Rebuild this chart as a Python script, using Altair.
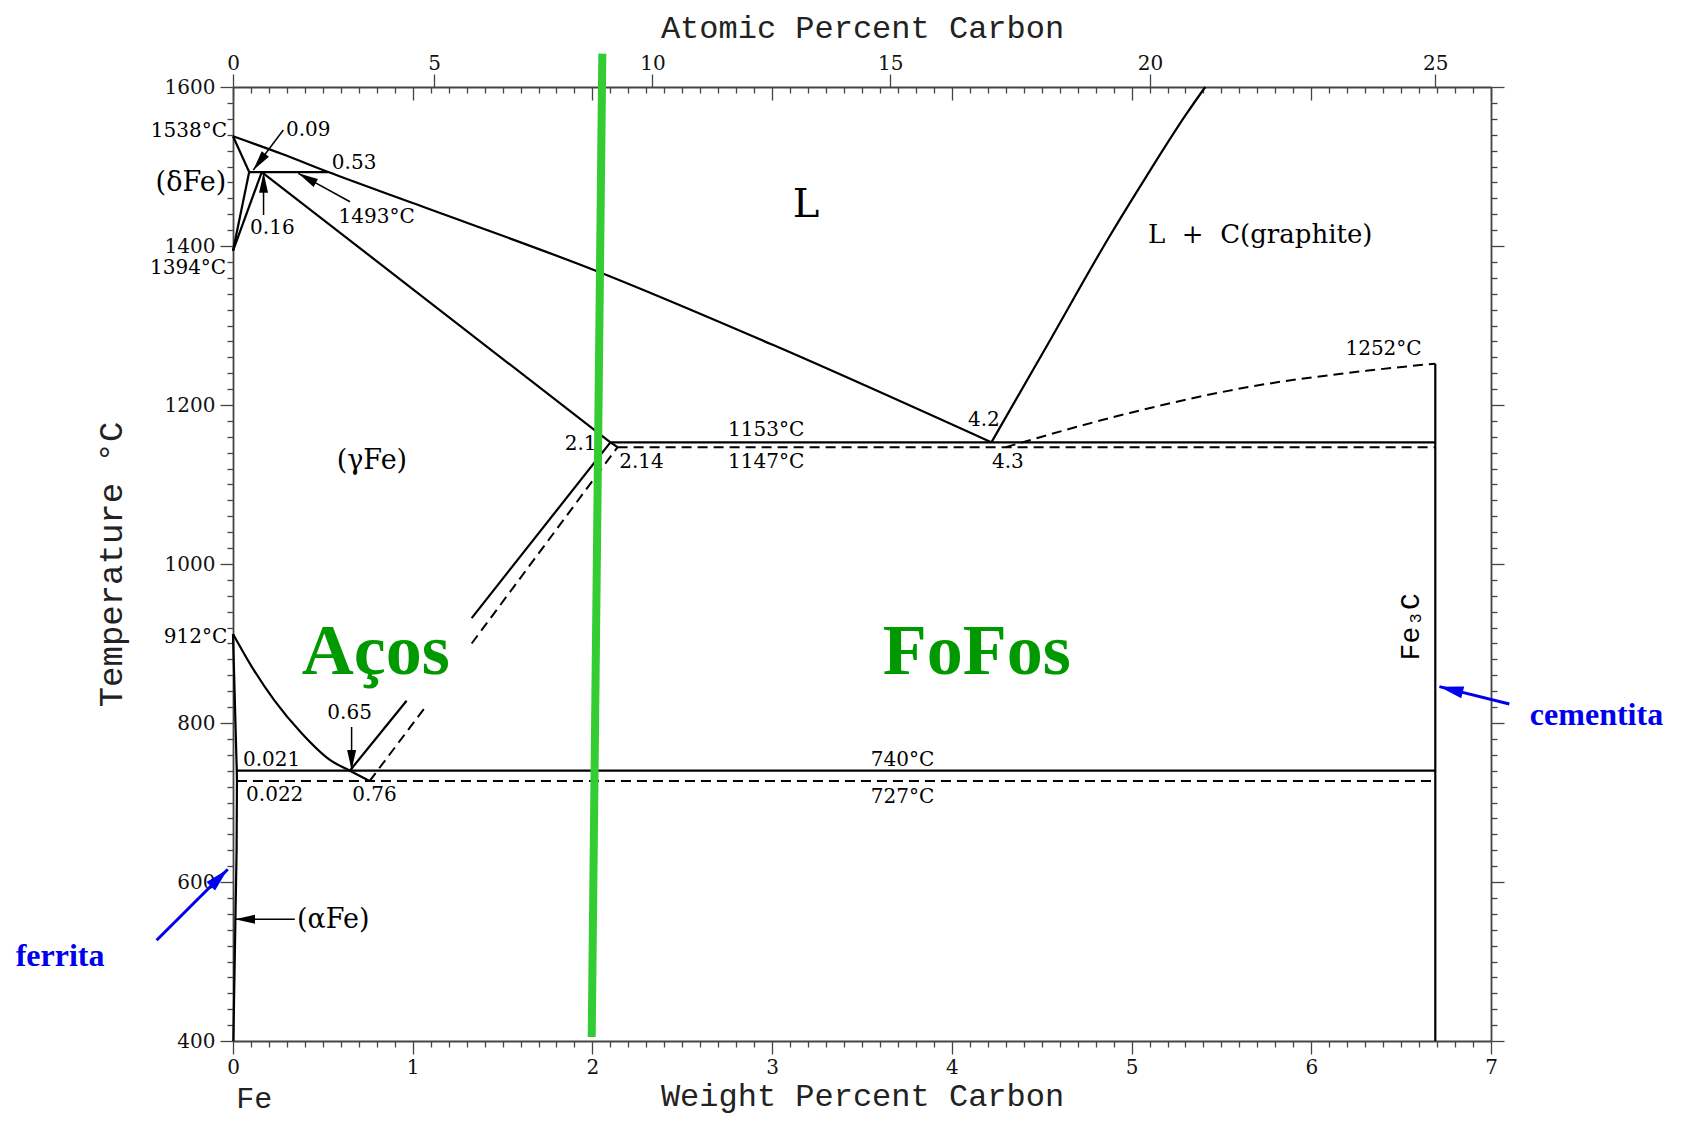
import math
import altair as alt
import pandas as pd

# ---------------- plot geometry ----------------
W, H = 1258, 954
WT_MIN, WT_MAX = 0, 7
T_MIN, T_MAX = 400, 1600

# ---------------- phase boundaries (wt% C, degC) ----------------
# solid lines (stable Fe-C / shared)
liquidus_wt = [0, 0.27, 0.53, 1.0, 2.04, 3.0, 4.22]
liquidus_T = [1538, 1516, 1493, 1454, 1367, 1276, 1153]
delta_solidus_wt = [0, 0.09]
delta_solidus_T = [1538, 1493]
peritectic_wt = [0.09, 0.53]
peritectic_T = [1493, 1493]
delta_gamma_wt = [0.09, 0]
delta_gamma_T = [1493, 1394]
gamma_delta_wt = [0.16, 0]
gamma_delta_T = [1493, 1394]
gamma_solidus_wt = [0.16, 2.1, 2.14]
gamma_solidus_T = [1493, 1153, 1147]
eutectic_wt = [2.1, 6.69]
eutectic_T = [1153, 1153]
graphite_liq_wt = [4.22, 4.525, 4.877, 5.081, 5.308, 5.41]
graphite_liq_T = [1153, 1273, 1412, 1487, 1567, 1600]
acm_stable_a_wt = [0.65, 0.966]
acm_stable_a_T = [740, 828]
acm_stable_b_wt = [1.328, 2.1]
acm_stable_b_T = [932, 1153]
a3_wt = [0, 0.104, 0.228, 0.382, 0.539, 0.65, 0.76]
a3_T = [912, 871, 829, 787, 753.5, 740, 727]
alpha_wt = [0, 0.021, 0.022, 0.02, 0.011, 0.002]
alpha_T = [912, 740, 727, 640, 520, 400]
eutectoid_wt = [0.021, 6.69]
eutectoid_T = [740, 740]
fe3c_wt = [6.69, 6.69]
fe3c_T = [400, 1252]

# dashed lines (metastable Fe-Fe3C)
eutectic_m_wt = [2.14, 6.69]
eutectic_m_T = [1147, 1147]
fe3c_liq_wt = [4.3, 4.99, 5.66, 6.305, 6.69]
fe3c_liq_T = [1147, 1190, 1223, 1243, 1252]
acm_m_a_wt = [0.76, 1.077]
acm_m_a_T = [727, 822]
acm_m_b_wt = [1.328, 2.14]
acm_m_b_T = [900, 1147]
eutectoid_m_wt = [0.022, 6.69]
eutectoid_m_T = [727, 727]

# green steel / cast-iron divider
green_wt = [1.996, 2.055]
green_T = [405, 1642]

# black annotation arrows: start -> tip
arrow_start_wt = [0.28, 0.17, 0.651, 0.66, 0.344]
arrow_start_T = [1546, 1439, 1455.7, 795, 553]
arrow_tip_wt = [0.113, 0.17, 0.363, 0.66, 0.011]
arrow_tip_T = [1495.6, 1492, 1491.4, 741, 553]

# blue arrows: start -> tip
blue_start_wt = [-0.425, 7.102]
blue_start_T = [526.8, 823.9]
blue_tip_wt = [-0.029, 6.713]
blue_tip_T = [616, 845.7]

# labels
small_text = ["0.09", "0.53", "1493°C", "0.16", "1252°C", "4.2", "4.3", "2.1", "2.14",
              "1153°C", "1147°C", "0.65", "0.021", "0.022", "0.76", "740°C", "727°C"]
small_wt = [0.419, 0.674, 0.799, 0.219, 6.402, 4.178, 4.312, 1.934, 2.273,
            2.967, 2.967, 0.649, 0.215, 0.232, 0.787, 3.725, 3.725]
small_T = [1546, 1505, 1437, 1423, 1270, 1181, 1128, 1151, 1128,
           1169, 1128, 813, 753, 709, 709, 753, 707]

left_text = ["1538°C", "1394°C", "912°C"]
left_wt = [-0.033, -0.038, -0.032]
left_T = [1545, 1372, 908]

phase_text = ["(γFe)", "(αFe)"]
phase_wt = [0.773, 0.558]
phase_T = [1130, 552]

delta_text = ["(δFe)"]
delta_wt = [-0.038]
delta_T = [1479]

L_text = ["L"]
L_wt = [3.188]
L_T = [1452]

LC_text = ["L\u00a0\u00a0+\u00a0\u00a0C(graphite)"]
LC_wt = [5.716]
LC_T = [1414]

green_text = ["Aços", "FoFos"]
green_text_wt = [0.794, 4.139]
green_text_T = [862, 862]

blue_text = ["ferrita", "cementita"]
blue_text_wt = [-0.962, 7.587]
blue_text_T = [494, 797.5]

fe3c_text = ["Fe\u2083C"]
fe3c_text_wt = [6.555]
fe3c_text_T = [921]

fe_text = ["Fe"]
fe_text_wt = [0.118]
fe_text_T = [327]

# axis ticks
wt_ticks = [i / 10 for i in range(71)]
T_ticks = list(range(400, 1601, 20))
at_ticks = [0, 5, 10, 15, 20, 25]


def at_to_wt(a):
    return 100 * a * 12.011 / (a * 12.011 + (100 - a) * 55.845)


at_tick_wt = [at_to_wt(a) for a in at_ticks]

# ---------------- data frames ----------------
solid_straight = {
    "delta_solidus": (delta_solidus_wt, delta_solidus_T),
    "peritectic": (peritectic_wt, peritectic_T),
    "delta_gamma": (delta_gamma_wt, delta_gamma_T),
    "gamma_delta": (gamma_delta_wt, gamma_delta_T),
    "gamma_solidus": (gamma_solidus_wt, gamma_solidus_T),
    "eutectic": (eutectic_wt, eutectic_T),
    "acm_a": (acm_stable_a_wt, acm_stable_a_T),
    "acm_b": (acm_stable_b_wt, acm_stable_b_T),
    "alpha": (alpha_wt, alpha_T),
    "eutectoid": (eutectoid_wt, eutectoid_T),
    "fe3c": (fe3c_wt, fe3c_T),
}
solid_curved = {
    "liquidus": (liquidus_wt, liquidus_T),
    "graphite_liq": (graphite_liq_wt, graphite_liq_T),
    "a3": (a3_wt, a3_T),
}
dashed_straight = {
    "eutectic_m": (eutectic_m_wt, eutectic_m_T),
    "acm_m_a": (acm_m_a_wt, acm_m_a_T),
    "acm_m_b": (acm_m_b_wt, acm_m_b_T),
    "eutectoid_m": (eutectoid_m_wt, eutectoid_m_T),
}
dashed_curved = {
    "fe3c_liq": (fe3c_liq_wt, fe3c_liq_T),
}


def seg_frame(segments):
    rows = []
    for name, (ws, ts) in segments.items():
        for i, (w, t) in enumerate(zip(ws, ts)):
            rows.append({"seg": name, "i": i, "wt": w, "T": t})
    return pd.DataFrame(rows)


PX_WT = W / (WT_MAX - WT_MIN)
PX_T = H / (T_MAX - T_MIN)


def arrow_frames(sw, sT, tw, tT):
    lines, heads = [], []
    for k, (a, b, c, d) in enumerate(zip(sw, sT, tw, tT)):
        lines.append({"seg": k, "i": 0, "wt": a, "T": b})
        lines.append({"seg": k, "i": 1, "wt": c, "T": d})
        dx = (c - a) * PX_WT
        dy = -(d - b) * PX_T
        ang = math.degrees(math.atan2(dx, -dy)) % 360
        heads.append({"wt": c, "T": d, "ang": ang})
    return pd.DataFrame(lines), pd.DataFrame(heads)


def text_frame(texts, ws, ts):
    return pd.DataFrame({"text": texts, "wt": ws, "T": ts})


xscale = alt.Scale(domain=[WT_MIN, WT_MAX], nice=False, zero=False)
yscale = alt.Scale(domain=[T_MIN, T_MAX], nice=False, zero=False)


def X(axis=None, title=None):
    return alt.X("wt:Q", scale=xscale, axis=axis, title=title)


def Y(axis=None, title=None):
    return alt.Y("T:Q", scale=yscale, axis=axis, title=title)


MAJ, MIN = 13, 6
IS_INT = "abs(datum.value - round(datum.value)) < 0.001"
IS_200 = "datum.value % 200 === 0"

bottom_axis = alt.Axis(
    orient="bottom", values=wt_ticks,
    tickSize={"condition": {"test": IS_INT, "value": MAJ}, "value": MIN},
    labelExpr=f"{IS_INT} ? format(datum.value, 'd') : ''",
    labelOverlap=False, labelFlush=False, labelPadding=3,
    titleY=54, titleBaseline="middle", titleFontSize=32,
)
left_axis = alt.Axis(
    orient="left", values=T_ticks,
    tickSize={"condition": {"test": IS_200, "value": MAJ}, "value": MIN},
    labelExpr=f"{IS_200} ? format(datum.value, 'd') : ''",
    labelOverlap=False, labelFlush=False, labelPadding=5,
    titleX=-122, titleBaseline="middle",
)
top_at_axis = alt.Axis(
    orient="top", values=at_tick_wt, tickSize=MAJ,
    labelExpr="format(round(100*(datum.value/12.011)/((datum.value/12.011)+((100-datum.value)/55.845))), 'd')",
    labelOverlap=False, labelFlush=False, labelPadding=1,
    titleY=-60, titleBaseline="middle", titleFontSize=32,
)
right_axis = alt.Axis(
    orient="right", values=T_ticks,
    tickSize={"condition": {"test": IS_200, "value": MAJ}, "value": MIN},
    labels=False,
)
top_inner_axis = alt.Axis(
    orient="top", values=wt_ticks, domain=False, labels=False,
    tickSize={"expr": f"{IS_INT} ? -{MAJ} : -{MIN}"},
)

green_df = pd.DataFrame({"seg": [0, 0], "i": [0, 1], "wt": green_wt, "T": green_T})
arr_lines, arr_heads = arrow_frames(arrow_start_wt, arrow_start_T, arrow_tip_wt, arrow_tip_T)
blue_lines, blue_heads = arrow_frames(blue_start_wt, blue_start_T, blue_tip_wt, blue_tip_T)

layers = []
layers.append(
    alt.Chart(seg_frame(solid_straight)).mark_line(color="black", strokeWidth=2.2, strokeJoin="round")
    .encode(x=X(bottom_axis, "Weight Percent Carbon"), y=Y(left_axis, "Temperature °C"),
            detail="seg:N", order="i:Q")
)
layers.append(
    alt.Chart(seg_frame(solid_curved)).mark_line(color="black", strokeWidth=2.2, interpolate="monotone")
    .encode(x=X(), y=Y(), detail="seg:N", order="i:Q")
)
layers.append(
    alt.Chart(seg_frame(dashed_straight)).mark_line(color="black", strokeWidth=2, strokeDash=[10, 6])
    .encode(x=X(), y=Y(), detail="seg:N", order="i:Q")
)
layers.append(
    alt.Chart(seg_frame(dashed_curved)).mark_line(color="black", strokeWidth=2, strokeDash=[10, 6],
                                                 interpolate="monotone")
    .encode(x=X(), y=Y(), detail="seg:N", order="i:Q")
)
layers.append(
    alt.Chart(arr_lines).mark_line(color="black", strokeWidth=1.5)
    .encode(x=X(), y=Y(), detail="seg:N", order="i:Q")
)
layers.append(
    alt.Chart(arr_heads).mark_point(shape="M0,0L0.45,2L-0.45,2Z", filled=True, color="black",
                                    size=400, opacity=1, strokeWidth=0)
    .encode(x=X(), y=Y(), angle=alt.Angle("ang:Q", scale=None))
)
layers.append(
    alt.Chart(blue_lines).mark_line(color="#0000ee", strokeWidth=3)
    .encode(x=X(), y=Y(), detail="seg:N", order="i:Q")
)
layers.append(
    alt.Chart(blue_heads).mark_point(shape="M0,0L0.5,2L-0.5,2Z", filled=True, color="#0000ee",
                                     size=576, opacity=1, strokeWidth=0)
    .encode(x=X(), y=Y(), angle=alt.Angle("ang:Q", scale=None))
)


def text_layer(df, **kw):
    return alt.Chart(df).mark_text(**kw).encode(x=X(), y=Y(), text="text:N")


SERIF = "DejaVu Serif"
layers.append(text_layer(text_frame(small_text, small_wt, small_T), font=SERIF, fontSize=20,
                         align="center", baseline="middle", color="black"))
layers.append(text_layer(text_frame(left_text, left_wt, left_T), font=SERIF, fontSize=20,
                         align="right", baseline="middle", color="black"))
layers.append(text_layer(text_frame(phase_text, phase_wt, phase_T), font=SERIF, fontSize=27,
                         align="center", baseline="middle", color="black"))
layers.append(text_layer(text_frame(delta_text, delta_wt, delta_T), font=SERIF, fontSize=27,
                         align="right", baseline="middle", color="black"))
layers.append(text_layer(text_frame(L_text, L_wt, L_T), font=SERIF, fontSize=40,
                         align="center", baseline="middle", color="black"))
layers.append(text_layer(text_frame(LC_text, LC_wt, LC_T), font=SERIF, fontSize=26,
                         align="center", baseline="middle", color="black"))
layers.append(text_layer(text_frame(green_text, green_text_wt, green_text_T),
                         font="Liberation Serif", fontWeight="bold", fontSize=72,
                         align="center", baseline="alphabetic", color="#009900"))
layers.append(text_layer(text_frame(blue_text, blue_text_wt, blue_text_T),
                         font="Liberation Serif", fontWeight="bold", fontSize=32,
                         align="center", baseline="alphabetic", color="#0000ee"))
layers.append(text_layer(text_frame(fe3c_text, fe3c_text_wt, fe3c_text_T),
                         font="Liberation Mono", fontSize=28, angle=270,
                         align="center", baseline="middle", color="black"))
layers.append(text_layer(text_frame(fe_text, fe_text_wt, fe_text_T),
                         font="Liberation Mono", fontSize=30,
                         align="center", baseline="middle", color="#222"))
layers.append(
    alt.Chart(green_df).mark_line(color="#33cc33", strokeWidth=8, strokeCap="butt")
    .encode(x=X(), y=Y(), detail="seg:N", order="i:Q")
)
# extra axes: top atomic-percent axis, right mirror axis, inner weight-percent ticks on top
layers.append(
    alt.Chart(green_df).mark_point(opacity=0)
    .encode(x=X(top_at_axis, "Atomic Percent Carbon"), y=Y(right_axis))
)
layers.append(
    alt.Chart(green_df).mark_point(opacity=0)
    .encode(x=X(top_inner_axis), y=Y())
)

chart = (
    alt.layer(*layers)
    .resolve_axis(x="independent", y="independent")
    .properties(
        width=W, height=H,
        autosize=alt.AutoSizeParams(type="none"),
        padding={"left": 225, "top": 79, "right": 182, "bottom": 76},
    )
    .configure_view(strokeWidth=0)
    .configure_axis(
        grid=False,
        domainColor="#444", domainWidth=1.8,
        tickColor="#444", tickWidth=1.3,
        labelFont=SERIF, labelFontSize=20, labelColor="#111",
        titleFont="Liberation Mono", titleFontSize=34, titleFontWeight="normal",
        titleColor="#222",
    )
)

chart.save("out.html", embed_options={"renderer": "svg", "actions": False})
